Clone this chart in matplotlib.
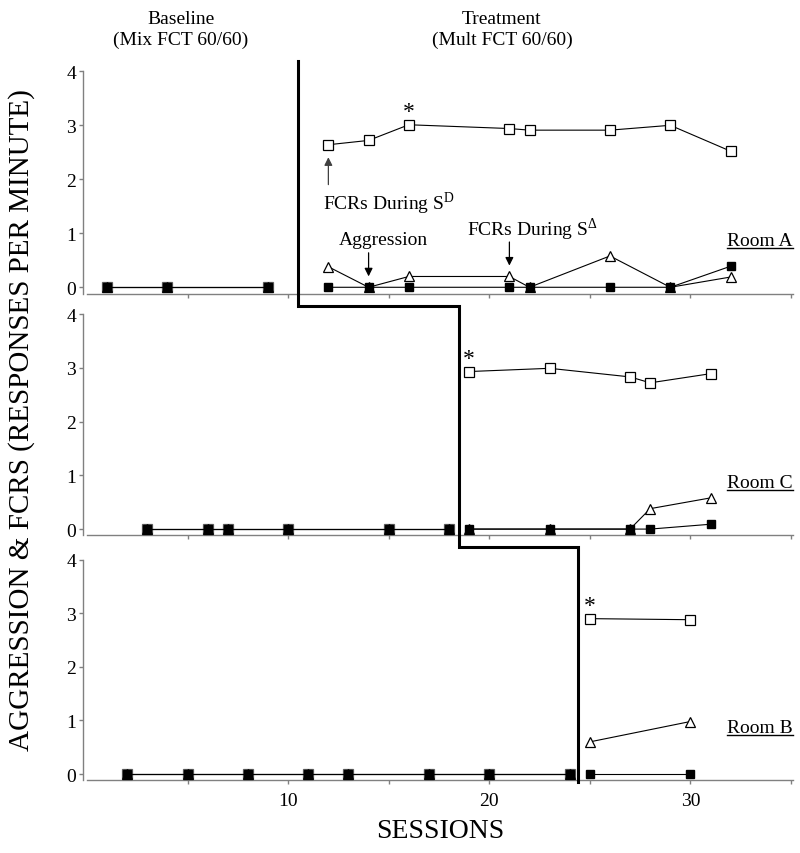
import numpy as np
import matplotlib
matplotlib.use('Agg')
import matplotlib.pyplot as plt
from matplotlib.lines import Line2D

plt.rcParams['font.family'] = ['Liberation Serif', 'DejaVu Serif']
plt.rcParams['mathtext.fontset'] = 'custom'
plt.rcParams['mathtext.rm'] = 'Liberation Serif'

# Room A
a_base_x = [1, 4, 9]
a_treat_x = [12, 14, 16, 21, 22, 26, 29, 32]
a_sd = [2.64, 2.72, 3.01, 2.94, 2.91, 2.91, 3.00, 2.52]
a_sdelta = [0.38, 0.0, 0.20, 0.20, 0.0, 0.58, 0.0, 0.19]
a_aggr = [0, 0, 0, 0, 0, 0, 0, 0.39]

# Room C
c_base_x = [3, 6, 7, 10, 15, 18]
c_treat_x = [19, 23, 27, 28, 31]
c_sd = [2.93, 2.99, 2.83, 2.72, 2.89]
c_sdelta = [0, 0, 0, 0.38, 0.58]
c_aggr = [0, 0, 0, 0, 0.09]

# Room B
b_base_x = [2, 5, 8, 11, 13, 17, 20, 24]
b_treat_x = [25, 30]
b_sd = [2.90, 2.88]
b_sdelta = [0.60, 0.98]
b_aggr = [0, 0]

phase_change = [10.5, 18.5, 24.4]
rooms = ['Room A', 'Room C', 'Room B']
star_sessions = [16, 19, 25]

fig = plt.figure(figsize=(8, 8.54), dpi=100)
W, H = 800.0, 854.0
x0, x1 = 87.0, 793.0
# (top px of y=4, bottom px of axis, ymin)
panels = [(72.3, 295.3, -0.13), (315.0, 536.0, -0.11), (560.7, 780.7, -0.106)]
axes = []
for top, bot, ymin in panels:
    ax = fig.add_axes([x0 / W, 1 - bot / H, (x1 - x0) / W, (bot - top) / H])
    ax.set_xlim(0, 35.1)
    ax.set_ylim(ymin, 4)
    ax.set_yticks([0, 1, 2, 3, 4])
    ax.set_xticks([5, 10, 15, 20, 25, 30, 35])
    ax.set_xticklabels(['', '10', '', '20', '', '30', ''])
    for s in ['top', 'right']:
        ax.spines[s].set_visible(False)
    for s in ['left', 'bottom']:
        ax.spines[s].set_color('#808080')
        ax.spines[s].set_linewidth(1.0)
    ax.spines['left'].set_position(('outward', 3))
    ax.spines['left'].set_bounds(ymin, 4)
    ax.tick_params(axis='both', length=3, width=1, color='#808080',
                   labelsize=14, pad=2)
    ax.tick_params(axis='x', pad=6)
    ax.patch.set_visible(False)
    axes.append(ax)
axes[0].set_xticklabels([])
axes[1].set_xticklabels([])


def plot_phase(ax, x, sd, sdelta, aggr, edge='k'):
    ax.plot(x, sd, '-', color='k', lw=0.8, marker='s', ms=7.5,
            mfc='white', mec=edge, mew=0.9, zorder=3, clip_on=False)
    ax.plot(x, sdelta, '-', color='k', lw=0.8, marker='^', ms=7.5,
            mfc='white', mec='k', mew=0.9, zorder=4, clip_on=False)
    ax.plot(x, aggr, '-', color='k', lw=0.8, marker='s', ms=5.5,
            mfc='k', mec='k', zorder=5, clip_on=False)


data = [
    (a_base_x, a_treat_x, a_sd, a_sdelta, a_aggr),
    (c_base_x, c_treat_x, c_sd, c_sdelta, c_aggr),
    (b_base_x, b_treat_x, b_sd, b_sdelta, b_aggr),
]
room_texts = []
for ax, (bx, tx, sd, sdl, ag), room, st in zip(axes, data, rooms, star_sessions):
    zeros = [0] * len(bx)
    plot_phase(ax, bx, zeros, zeros, zeros, edge='#606060')
    plot_phase(ax, tx, sd, sdl, ag)
    ax.annotate('*', xy=(st, sd[tx.index(st)]),
                xytext=(0, 5.5), textcoords='offset points',
                ha='center', va='baseline', fontsize=17)
    t = ax.text(1.0, 0.78, room, transform=ax.get_yaxis_transform(),
                ha='right', va='baseline', fontsize=14)
    room_texts.append(t)

# annotations in the first panel
arrow = dict(arrowstyle='-|>', color='k', lw=0.9, mutation_scale=12)
ax = axes[0]
ax.text(11.72, 1.45, r'FCRs During S$^{\mathrm{D}}$', ha='left', va='baseline', fontsize=14)
ax.annotate('', xy=(12, 2.46), xytext=(12, 1.85), arrowprops=dict(arrow, color='#404040'))
ax.text(12.5, 0.81, 'Aggression', ha='left', va='baseline', fontsize=14)
ax.annotate('', xy=(14, 0.15), xytext=(14, 0.69), arrowprops=arrow)
ax.text(18.9, 0.96, r'FCRs During S$^{\mathrm{\Delta}}$', ha='left', va='baseline', fontsize=14)
ax.annotate('', xy=(21, 0.35), xytext=(21, 0.89), arrowprops=arrow)

fig.text(181 / W, 1 - 30 / H, 'Baseline\n(Mix FCT 60/60)', ha='center', va='center',
         fontsize=14, linespacing=1.3)
fig.text(502 / W, 1 - 30 / H, 'Treatment\n(Mult FCT 60/60)', ha='center', va='center',
         fontsize=14, linespacing=1.3)
fig.text(22 / W, 1 - 420 / H, 'AGGRESSION & FCRS (RESPONSES PER MINUTE)',
         rotation=90, ha='center', va='center', fontsize=21)
fig.text(440 / W, 1 - 832 / H, 'SESSIONS', ha='center', va='center', fontsize=20)

# phase change line
to_fig = fig.transFigure.inverted()


def fpt(ax, x, y):
    return to_fig.transform(ax.transData.transform((x, y)))


pts = [
    fpt(axes[0], phase_change[0], 4.19),
    fpt(axes[0], phase_change[0], -0.35),
    fpt(axes[0], phase_change[1], -0.35),
    fpt(axes[2], phase_change[1], 4.23),
    fpt(axes[2], phase_change[2], 4.23),
    fpt(axes[2], phase_change[2], -0.15),
]
pts = np.array(pts)
fig.add_artist(Line2D(pts[:, 0], pts[:, 1], color='k', lw=2.2,
                      solid_joinstyle='miter', transform=fig.transFigure))

# underline room labels
fig.canvas.draw()
r = fig.canvas.get_renderer()
for t in room_texts:
    bb = t.get_window_extent(r)
    yb = bb.y0 + 1.5
    fig.add_artist(Line2D([bb.x0 / W, bb.x1 / W], [yb / H, yb / H],
                          color='k', lw=1.0, transform=fig.transFigure))

fig.savefig('out.png', dpi=100)
